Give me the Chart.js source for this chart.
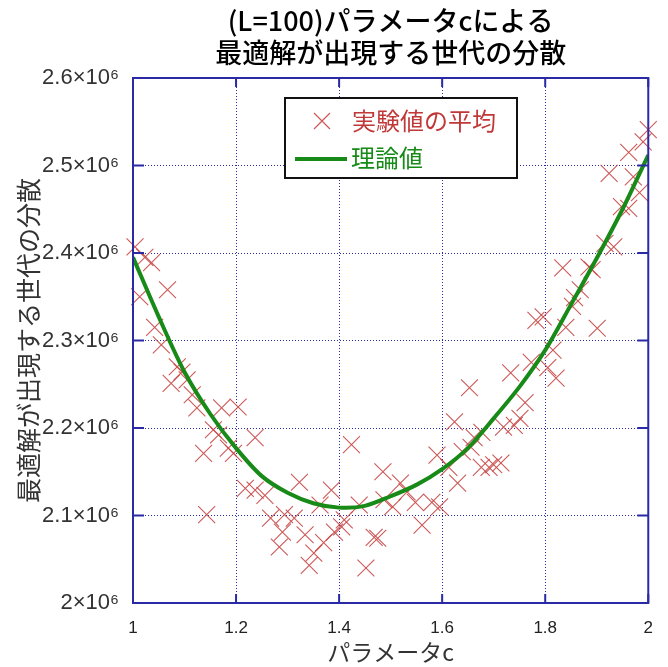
<!DOCTYPE html>
<html>
<head>
<meta charset="utf-8">
<script src="https://cdn.jsdelivr.net/npm/chart.js@4.4.1/dist/chart.umd.min.js"></script>
<style>
  html, body { margin: 0; padding: 0; background: #fff; }
  #wrap { width: 668px; height: 667px; }
</style>
</head>
<body>
<div id="wrap"><canvas id="chart"></canvas></div>
<script>
// experimental averages (c, variance)
const expC = [
  1.004, 1.023, 1.036, 1.067, 1.013, 1.042, 1.055, 1.086, 1.095, 1.074,
  1.105, 1.115, 1.124, 1.172, 1.204, 1.156, 1.166, 1.237, 1.137, 1.185,
  1.195, 1.218, 1.237, 1.256, 1.323, 1.143, 1.267, 1.294, 1.313, 1.290,
  1.284, 1.334, 1.342, 1.424, 1.590, 1.485, 1.385, 1.519, 1.532, 1.363,
  1.439, 1.487, 1.504, 1.548, 1.580, 1.595, 1.410, 1.405, 1.561, 1.391,
  1.468, 1.475, 1.370, 1.351, 1.452, 1.624, 1.630, 1.656, 1.948, 1.962,
  1.916, 1.933, 1.834, 1.885, 1.868, 1.857, 1.853, 1.782, 1.796, 1.840,
  1.901, 1.815, 1.773, 1.733, 1.805, 1.821, 1.653, 1.761, 1.751, 1.740,
  1.719, 1.677, 1.662, 1.639, 1.613, 1.676, 1.691, 1.700, 1.714, 2.000,
  1.990, 1.962, 1.924, 1.971, 1.983, 1.891
];
const expVar = [
  2407000, 2395000, 2389000, 2358000, 2350000, 2315000, 2295000, 2270000, 2264000, 2251000,
  2255000, 2238000, 2223000, 2223000, 2224000, 2198000, 2192000, 2189000, 2171000, 2177000,
  2171000, 2131000, 2129000, 2123000, 2138000, 2101000, 2097000, 2101000, 2097000, 2081000,
  2064000, 2078000, 2043000, 2181000, 2169000, 2150000, 2129000, 2137000, 2127000, 2112000,
  2112000, 2118000, 2110000, 2115000, 2115000, 2110000, 2095000, 2087000, 2089000, 2081000,
  2075000, 2074000, 2069000, 2057000, 2040000, 2207000, 2137000, 2178000, 2453000, 2451000,
  2411000, 2407000, 2383000, 2384000, 2358000, 2349000, 2339000, 2323000, 2327000, 2315000,
  2314000, 2289000, 2275000, 2263000, 2269000, 2257000, 2246000, 2229000, 2211000, 2203000,
  2201000, 2195000, 2189000, 2173000, 2155000, 2155000, 2155000, 2158000, 2160000, 2541000,
  2527000, 2515000, 2491000, 2487000, 2469000, 2381000
];

// theoretical curve
const theoryC = [
  1.00, 1.05, 1.10, 1.15, 1.20, 1.25, 1.30, 1.35, 1.40, 1.45, 1.50,
  1.55, 1.60, 1.65, 1.70, 1.75, 1.80, 1.85, 1.90, 1.95, 2.00
];
const theoryVar = [
  2395000, 2327000, 2264000, 2216000, 2177000, 2145000, 2126000, 2114000, 2109000, 2111000, 2122000,
  2135000, 2153000, 2177000, 2211000, 2247000, 2289000, 2341000, 2394000, 2450000, 2512000
];

const yTicks = [2000000, 2100000, 2200000, 2300000, 2400000, 2500000, 2600000];
const xTicks = [1, 1.2, 1.4, 1.6, 1.8, 2];

const titleLines = ['(L=100)パラメータcによる', '最適解が出現する世代の分散'];
const jp = '"Noto Sans CJK JP", sans-serif';
const latin = '"Liberation Sans", Arial, sans-serif';
const frameBlue = '#2a2aa6';
const expColor = 'rgba(200, 70, 70, 0.9)';
const theoryColor = '#178a17';

//..frame with inward ticks, title and the legend box inside the plot
const decorations = {
  id: 'decorations',
  afterDatasetsDraw(chart) {
    const { ctx, chartArea: a, scales } = chart;
    ctx.save();
    ctx.strokeStyle = frameBlue;
    ctx.lineWidth = 2;
    ctx.strokeRect(a.left, a.top, a.right - a.left, a.bottom - a.top);
    ctx.beginPath();
    xTicks.forEach(v => {
      const px = scales.x.getPixelForValue(v);
      ctx.moveTo(px, a.bottom); ctx.lineTo(px, a.bottom - 9);
      ctx.moveTo(px, a.top); ctx.lineTo(px, a.top + 9);
    });
    yTicks.forEach(v => {
      const py = scales.y.getPixelForValue(v);
      ctx.moveTo(a.left, py); ctx.lineTo(a.left + 11, py);
      ctx.moveTo(a.right, py); ctx.lineTo(a.right - 11, py);
    });
    ctx.stroke();
    ctx.restore();
  },
  afterDraw(chart) {
    const { ctx, chartArea: a } = chart;
    const cx = (a.left + a.right) / 2;
    ctx.save();
    ctx.fillStyle = '#000';
    ctx.textAlign = 'center';
    ctx.textBaseline = 'middle';
    ctx.font = '500 27px ' + jp;
    ctx.fillText(titleLines[0], cx, 21);
    ctx.fillText(titleLines[1], cx, 53);

    // legend
    const [expSet, theorySet] = chart.data.datasets;
    const bx = a.left + 152, by = a.top + 20, bw = 232, bh = 80;
    ctx.fillStyle = '#fff';
    ctx.fillRect(bx, by, bw, bh);
    ctx.strokeStyle = '#111';
    ctx.lineWidth = 2;
    ctx.strokeRect(bx, by, bw, bh);

    ctx.font = '24px ' + jp;
    ctx.textAlign = 'left';
    ctx.strokeStyle = expColor;
    ctx.lineWidth = 1.2;
    ctx.beginPath();
    ctx.moveTo(bx + 29, by + 15); ctx.lineTo(bx + 45, by + 31);
    ctx.moveTo(bx + 45, by + 15); ctx.lineTo(bx + 29, by + 31);
    ctx.stroke();
    ctx.fillStyle = '#c03838';
    ctx.fillText(expSet.label, bx + 67, by + 23);

    ctx.strokeStyle = theoryColor;
    ctx.lineWidth = 4;
    ctx.beginPath();
    ctx.moveTo(bx + 10, by + 61); ctx.lineTo(bx + 62, by + 61);
    ctx.stroke();
    ctx.fillStyle = theoryColor;
    ctx.fillText(theorySet.label, bx + 66, by + 60);
    ctx.restore();
  }
};

new Chart(document.getElementById('chart'), {
  type: 'scatter',
  data: {
    datasets: [{
      label: '実験値の平均',
      data: expC.map((c, i) => ({ x: c, y: expVar[i] })),
      pointStyle: 'crossRot',
      pointRadius: 12,
      borderColor: expColor,
      backgroundColor: expColor,
      pointBorderWidth: 1.1,
      clip: false,
      order: 2
    }, {
      type: 'line',
      label: '理論値',
      data: theoryC.map((c, i) => ({ x: c, y: theoryVar[i] })),
      showLine: true,
      borderColor: theoryColor,
      borderWidth: 4,
      pointRadius: 0,
      tension: 0.3,
      fill: false,
      order: 1
    }]
  },
  options: {
    responsive: true,
    maintainAspectRatio: false,
    animation: false,
    layout: { padding: { top: 78, right: 11, left: 0, bottom: 0 } },
    plugins: {
      legend: { display: false },
      tooltip: { enabled: false },
      title: { display: false }
    },
    scales: {
      x: {
        type: 'linear',
        min: 1,
        max: 2,
        afterBuildTicks: s => { s.ticks = xTicks.map(v => ({ value: v })); },
        afterFit: s => { s.height = 64; },
        grid: { color: frameBlue, lineWidth: 1, drawTicks: false },
        border: { display: false, dash: [1, 2] },
        ticks: {
          padding: 15,
          color: '#222',
          font: { family: '"Liberation Sans Narrow", ' + latin, size: 17 },
          callback: v => String(v)
        },
        title: {
          display: true,
          text: 'パラメータc',
          color: '#333',
          font: { family: jp, size: 23 },
          padding: { top: 0, bottom: 1 }
        }
      },
      y: {
        type: 'linear',
        min: 2000000,
        max: 2600000,
        afterBuildTicks: s => { s.ticks = yTicks.map(v => ({ value: v })); },
        afterFit: s => { s.width = 133; },
        grid: { color: frameBlue, lineWidth: 1, drawTicks: false },
        border: { display: false, dash: [1, 2] },
        ticks: {
          padding: 14,
          color: '#333',
          font: { family: latin, size: 22 },
          callback: v => (v / 1000000) + '×10⁶'
        },
        title: {
          display: true,
          text: '最適解が出現する世代の分散',
          color: '#333',
          font: { family: jp, size: 25 },
          padding: { top: 13, bottom: 0 }
        }
      }
    }
  },
  plugins: [decorations]
});
</script>
</body>
</html>
